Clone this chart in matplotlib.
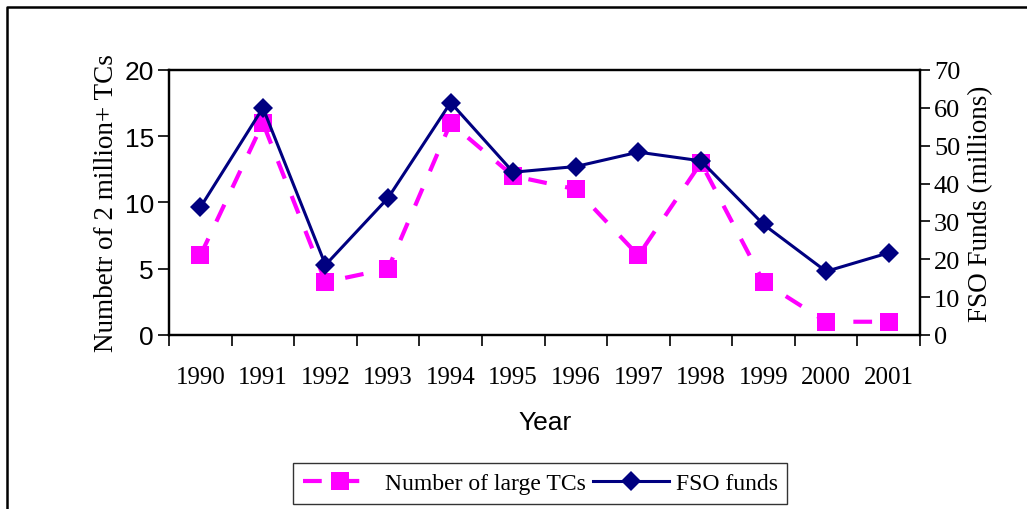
import matplotlib
matplotlib.use('Agg')
import matplotlib.pyplot as plt
from matplotlib.lines import Line2D
import numpy as np

years = ['1990', '1991', '1992', '1993', '1994', '1995',
         '1996', '1997', '1998', '1999', '2000', '2001']
large_tcs = [6, 16, 4, 5, 16, 12, 11, 6, 13, 4, 1, 1]
fso_funds = [33.7, 60.0, 18.5, 36.2, 61.4, 43.0, 44.5, 48.3, 46.0, 29.2, 16.8, 21.7]

serif = ['Liberation Serif', 'DejaVu Serif']
sans = ['Liberation Sans', 'DejaVu Sans']
narrow = ['Liberation Sans Narrow', 'Liberation Sans', 'DejaVu Sans']

fig = plt.figure(figsize=(10.27, 5.10), dpi=100)
ax1 = fig.add_axes([0.1646, 0.3412, 0.7312, 0.5196])
ax2 = ax1.twinx()

x = np.arange(len(years))

# TCs on the left axis, dashed magenta with squares
ax1.plot(x, large_tcs, color='#FF00FF', lw=3, linestyle=(0, (4.5, 4.5)),
         marker='s', markersize=13, markeredgewidth=0, label='Number of large TCs')
# FSO funds on the right axis, navy with diamonds
ax2.plot(x, fso_funds, color='#000080', lw=2.2,
         marker='D', markersize=10, markeredgewidth=0, label='FSO funds')

ax1.set_xlim(-0.5, len(years) - 0.5)
ax1.set_ylim(0, 20)
ax2.set_ylim(0, 70)
ax1.set_yticks([0, 5, 10, 15, 20])
ax2.set_yticks(range(0, 71, 10))

# category axis: tick marks between categories, labels centred
ax1.set_xticks(np.arange(-0.5, len(years), 1.0))
ax1.set_xticklabels([])
ax1.set_xticks(x, minor=True)
ax1.set_xticklabels(years, minor=True, fontfamily=serif, fontsize=18)
ax1.tick_params(axis='x', which='major', direction='out', length=8, width=1.2)
ax1.tick_params(axis='x', which='minor', length=0, pad=22)

ax1.tick_params(axis='y', direction='out', length=8, width=1.2, labelsize=19, pad=3)
for lab in ax1.get_yticklabels():
    lab.set_fontfamily(sans)
ax2.tick_params(axis='y', direction='out', length=7, width=1.2, labelsize=19, pad=3)
for lab in ax2.get_yticklabels():
    lab.set_fontfamily(serif)

for ax in (ax1, ax2):
    for s in ax.spines.values():
        s.set_linewidth(1.6)

ax1.set_ylabel('Numbetr of 2 million+ TCs', fontfamily=serif, fontsize=19.5, labelpad=4)
ax2.set_ylabel('FSO Funds (millions)', fontfamily=serif, fontsize=19.5, labelpad=6)
fig.text(0.531, 1 - 423 / 510, 'Year', fontfamily=narrow, fontsize=19,
         ha='center', va='center')

h1, l1 = ax1.get_legend_handles_labels()
h2, l2 = ax2.get_legend_handles_labels()
leg = fig.legend(h1 + h2, l1 + l2, loc='center', bbox_to_anchor=(0.526, 0.05),
                 ncol=2, frameon=True, fancybox=False, prop={'family': serif, 'size': 17},
                 handlelength=3.2, handletextpad=0.3, columnspacing=0.3,
                 borderpad=0.4, borderaxespad=0.2)
leg.get_frame().set_edgecolor('black')
leg.get_frame().set_linewidth(1.0)

# chart area border (left and top edges visible)
fig.add_artist(Line2D([7 / 1027, 7 / 1027, 1.0], [0.0, 1 - 8 / 510, 1 - 8 / 510],
                      transform=fig.transFigure, color='black', lw=1.8))

plt.savefig('out.png', dpi=100)
